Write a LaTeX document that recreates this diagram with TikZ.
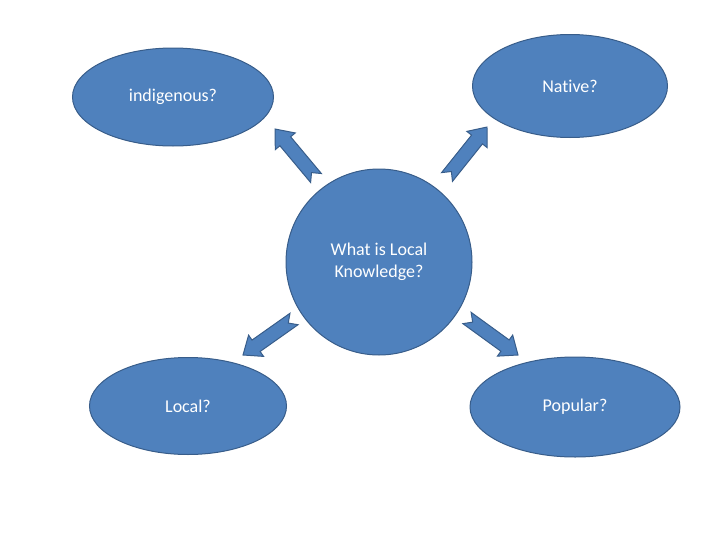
\documentclass[tikz,border=0pt]{standalone}
\usepackage{fontspec}
\setmainfont{Carlito}[RawFeature={-liga}]
\usetikzlibrary{shapes.geometric,calc}
\definecolor{fillblue}{HTML}{4F81BD}
\definecolor{edgeblue}{HTML}{385D8A}
\tikzset{
  blob/.style={ellipse, draw=edgeblue, fill=fillblue, line width=1pt, inner sep=0pt,
    text=white, font=\fontsize{18}{21.5}\selectfont, align=center},
  hub/.style={circle, draw=edgeblue, fill=fillblue, line width=1pt, inner sep=0pt,
    text=white, font=\fontsize{18}{21.5}\selectfont, align=center},
  barrow/.pic={
    \filldraw[draw=edgeblue, fill=fillblue, line width=1pt, line join=miter]
      (0,-7) -- (#1-16,-7) -- (#1-16,-13) -- (#1,0) -- (#1-16,13) -- (#1-16,7)
      -- (0,7) -- (7,0) -- cycle;
  }
}
\newcommand\blockarrow[2]{%
  \path let \p1=(#1), \p2=(#2), \n1={atan2(\y2-\y1,\x2-\x1)},
    \n2={veclen(\x2-\x1,\y2-\y1)} in
    pic[shift={(\p1)}, rotate=\n1, x=1pt, y=1pt]{barrow={\n2/1pt}};}
\begin{document}
\begin{tikzpicture}[x=1pt, y=-1pt]
\useasboundingbox (0,0) rectangle (728,546);
\node[hub, minimum size=186pt] (c) at (379,262) {What is Local\\Knowledge?};
\node[blob, minimum width=201pt, minimum height=98pt] (tl) at (173,97) {indigenous?};
\node[blob, minimum width=195pt, minimum height=103pt, text depth=-2pt] (tr) at (570,86) {Native?};
\node[blob, minimum width=197pt, minimum height=97pt] (bl) at (188,406) {Local?};
\node[blob, minimum width=210pt, minimum height=100pt] (br) at (575,407) {Popular?};
\coordinate (tlA) at (316,178); \coordinate (tlB) at (275,129);
\coordinate (trA) at (447,177); \coordinate (trB) at (487,127);
\coordinate (blA) at (294,319); \coordinate (blB) at (243,355);
\coordinate (brA) at (467,318); \coordinate (brB) at (518,355);
\blockarrow{tlA}{tlB}
\blockarrow{trA}{trB}
\blockarrow{blA}{blB}
\blockarrow{brA}{brB}
\end{tikzpicture}
\end{document}
